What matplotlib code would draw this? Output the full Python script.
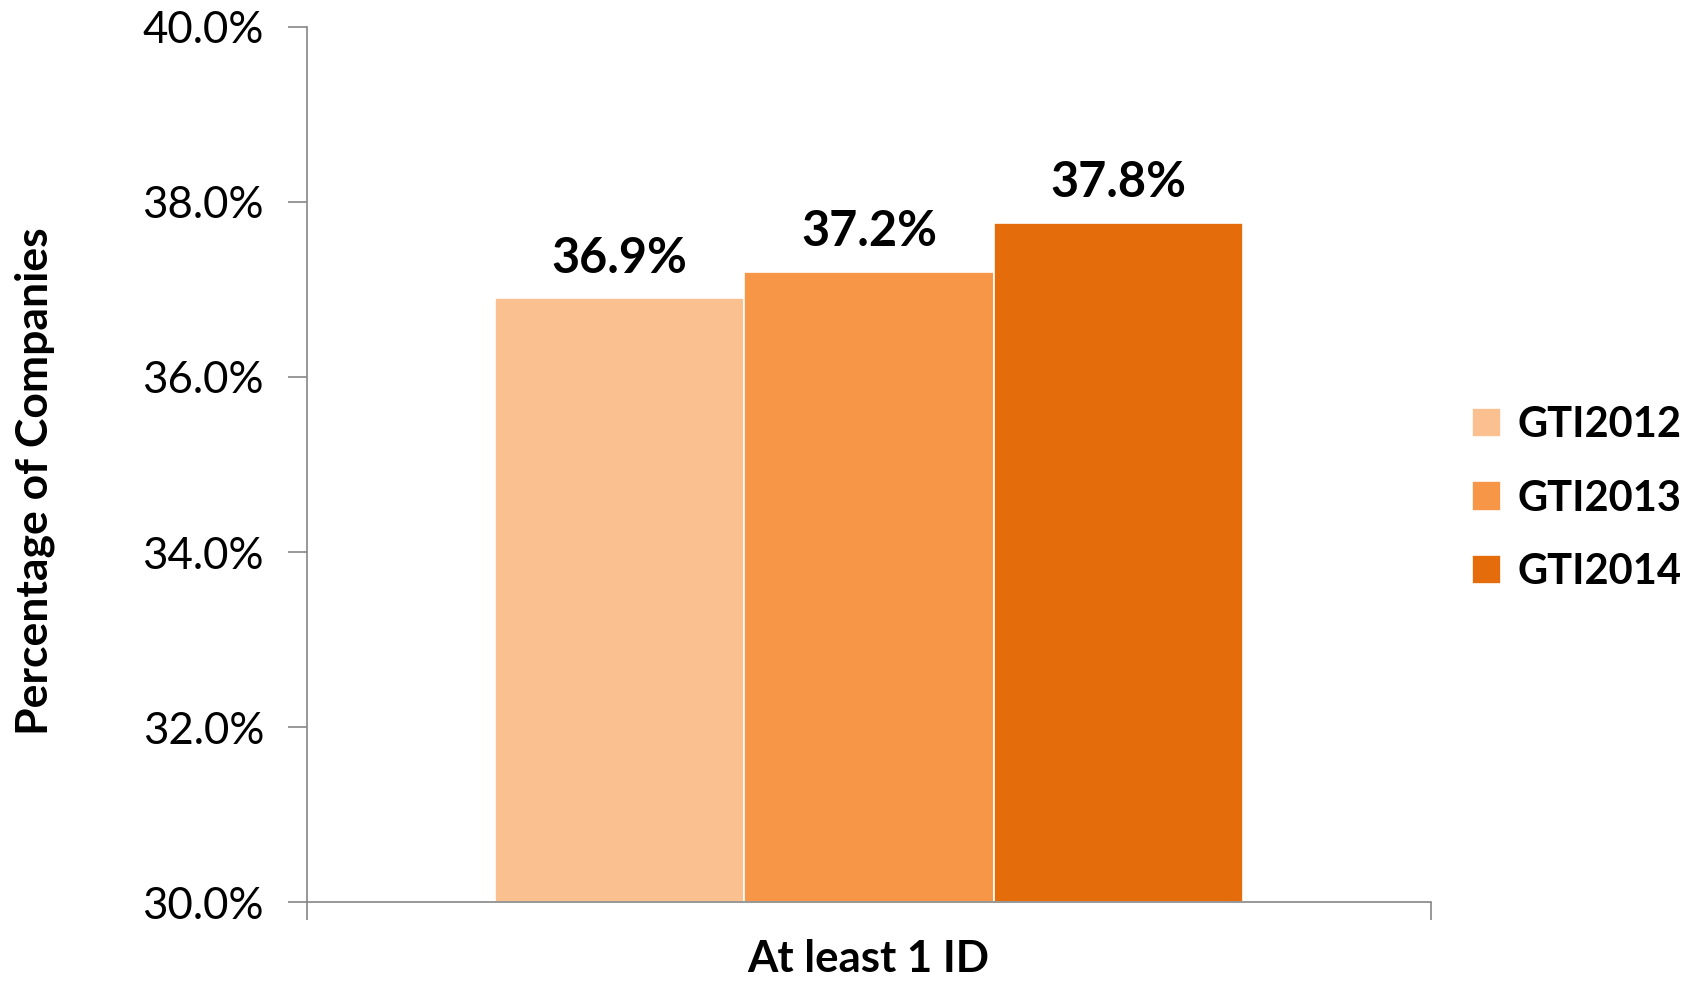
import matplotlib.pyplot as plt
import numpy as np

plt.rcParams['font.family'] = ['Lato', 'DejaVu Sans']

# data
category = "At least 1 ID"
series = ["GTI2012", "GTI2013", "GTI2014"]
values = [36.9, 37.2, 37.76]
value_labels = ["36.9%", "37.2%", "37.8%"]
colors = ["#FAC090", "#F79646", "#E46C0A"]
yticks = [30, 32, 34, 36, 38, 40]

fig = plt.figure(figsize=(17.02, 9.81), dpi=100)
ax = fig.add_axes([0.1804, 0.0805, 0.6604, 0.892])

width = 0.222
offsets = (np.arange(len(series)) - 1) * width
for off, val, lab, col, name in zip(offsets, values, value_labels, colors, series):
    ax.bar(off, val - 30, bottom=30, width=width, color=col, edgecolor='white',
           linewidth=1.2, label=name)
    ax.text(off, val + 0.2, lab, ha='center', va='bottom', fontsize=35,
            fontweight='bold', color='black')

ax.set_xlim(-0.5, 0.5)
ax.set_ylim(30, 40)
ax.set_yticks(yticks)
ax.set_yticklabels([f"{t:.1f}%" for t in yticks], fontsize=31.5)
ax.set_xticks([-0.5, 0.5])
ax.set_xticklabels([])
ax.tick_params(axis='y', length=14, width=1.2, color='#868686', pad=17)
ax.tick_params(axis='x', length=13, width=1.2, color='#868686')

for s in ['top', 'right']:
    ax.spines[s].set_visible(False)
for s in ['left', 'bottom']:
    ax.spines[s].set_color('#868686')
    ax.spines[s].set_linewidth(1.2)

ax.set_ylabel("Percentage of Companies", fontsize=32, fontweight='bold')
ax.yaxis.set_label_coords(-0.242, 0.481)
ax.yaxis.label.set_va('center')
fig.text(0.51, 0.022, category, ha='center', va='center', fontsize=31.5, fontweight='bold')

leg = ax.legend(loc='center left', bbox_to_anchor=(1.003, 0.461), frameon=False,
                prop={'weight': 'bold', 'size': 30},
                handlelength=0.7, handleheight=0.7, handletextpad=0.4,
                labelspacing=0.85)

fig.savefig("out.png", dpi=100)
